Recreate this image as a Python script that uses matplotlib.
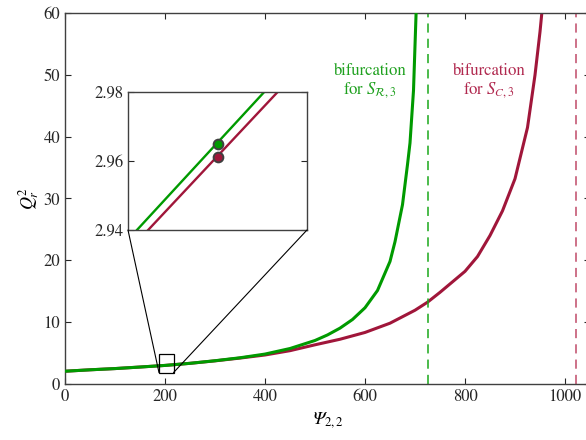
import numpy as np
import matplotlib.pyplot as plt
from matplotlib.patches import Rectangle, ConnectionPatch

plt.rcParams['font.family'] = ['STIXGeneral', 'DejaVu Serif']
plt.rcParams['mathtext.fontset'] = 'stix'

# data
psi_green = [0, 50, 100, 150, 200, 250, 300, 350, 400, 450, 500, 525, 550, 575,
             600, 625, 650, 660, 675, 685, 690, 697, 703]
q_green = [2.02, 2.25, 2.45, 2.7, 2.96, 3.3, 3.72, 4.2, 4.8, 5.7, 7.0, 7.9, 9.0, 10.4,
           12.3, 15.1, 19.8, 23.0, 29.0, 35.5, 39.0, 47.5, 62.0]

psi_red = [0, 50, 100, 150, 200, 250, 300, 350, 400, 450, 500, 550, 600, 650, 700,
           725, 750, 775, 800, 825, 850, 875, 900, 925, 940, 950, 956]
q_red = [2.02, 2.25, 2.45, 2.7, 2.96, 3.3, 3.7, 4.15, 4.65, 5.35, 6.3, 7.2, 8.3, 9.8, 11.9,
         13.2, 14.8, 16.5, 18.2, 20.6, 24.0, 28.0, 33.2, 41.5, 50.0, 57.0, 62.0]

bif_green = 725
bif_red = 1021

# zoomed region (inset)
zoom_x = [188, 217]
zoom_y = [1.8, 4.75]
inset_psi_green = [196.4, 202.1]
inset_q_green = [2.94, 2.98]
inset_psi_red = [196.9, 202.7]
inset_q_red = [2.94, 2.98]
pt_psi = 200
pt_q_green = 2.965
pt_q_red = 2.961

green = '#009a00'
red = '#a0163a'

fig = plt.figure(figsize=(5.86, 4.40), dpi=100)
ax = fig.add_axes([65/586, 1 - 383.7/440, 525/586, 370.4/440])

ax.plot(psi_green, q_green, color=green, lw=2.2, zorder=3)
ax.plot(psi_red, q_red, color=red, lw=2.2, zorder=2)
ax.axvline(bif_green, color='#1aa81a', lw=1.1, ls=(0, (6, 4)))
ax.axvline(bif_red, color='#c04a68', lw=1.1, ls=(0, (6, 4)))

ax.text(610, 49, 'bifurcation\nfor $S_{\\mathcal{R},3}$', color='#1ea01e',
        fontsize=12, ha='center', va='center', linespacing=1.05)
ax.text(848, 49, 'bifurcation\nfor $S_{C,3}$', color='#b0284e',
        fontsize=12, ha='center', va='center', linespacing=1.05)

ax.add_patch(Rectangle((zoom_x[0], zoom_y[0]), zoom_x[1] - zoom_x[0],
                       zoom_y[1] - zoom_y[0], fill=False, ec='black', lw=0.9, zorder=4))

ax.set_xlim(0, 1050)
ax.set_ylim(0, 60)
ax.set_xticks([0, 200, 400, 600, 800, 1000])
ax.set_yticks([0, 10, 20, 30, 40, 50, 60])
ax.tick_params(direction='in', top=True, right=True, length=4, labelsize=12,
               colors='#262626')
for s in ax.spines.values():
    s.set_color('#404040')
    s.set_linewidth(1.0)
ax.set_xlabel('Ψ$_{2,2}$', fontsize=13, fontstyle='italic', labelpad=4)
ax.set_ylabel(r'$Q_r^2$', fontsize=13, labelpad=2)

# inset
axin = fig.add_axes([128/586, 1 - 230/440, 179/586, 138.3/440])
axin.plot(inset_psi_green, inset_q_green, color=green, lw=1.7)
axin.plot(inset_psi_red, inset_q_red, color=red, lw=1.7)
axin.plot([pt_psi], [pt_q_green], 'o', ms=7, mfc=green, mec='#404040', mew=1.4)
axin.plot([pt_psi], [pt_q_red], 'o', ms=7, mfc=red, mec='#404040', mew=1.4)
axin.set_xlim(196, 204)
axin.set_ylim(2.94, 2.98)
axin.set_xticks([])
axin.set_yticks([2.94, 2.96, 2.98])
axin.set_yticklabels(['2.94', '2.96', '2.98'])
axin.tick_params(direction='in', right=True, length=4, labelsize=12, colors='#262626')
for s in axin.spines.values():
    s.set_color('#404040')
    s.set_linewidth(1.0)

for xa, xb in [(0, zoom_x[0]), (1, zoom_x[1])]:
    con = ConnectionPatch(xyA=(xa, 0), coordsA=axin.transAxes,
                          xyB=(xb, zoom_y[0]), coordsB=ax.transData,
                          color='black', lw=0.8)
    fig.add_artist(con)

fig.savefig('out.png', dpi=100)
